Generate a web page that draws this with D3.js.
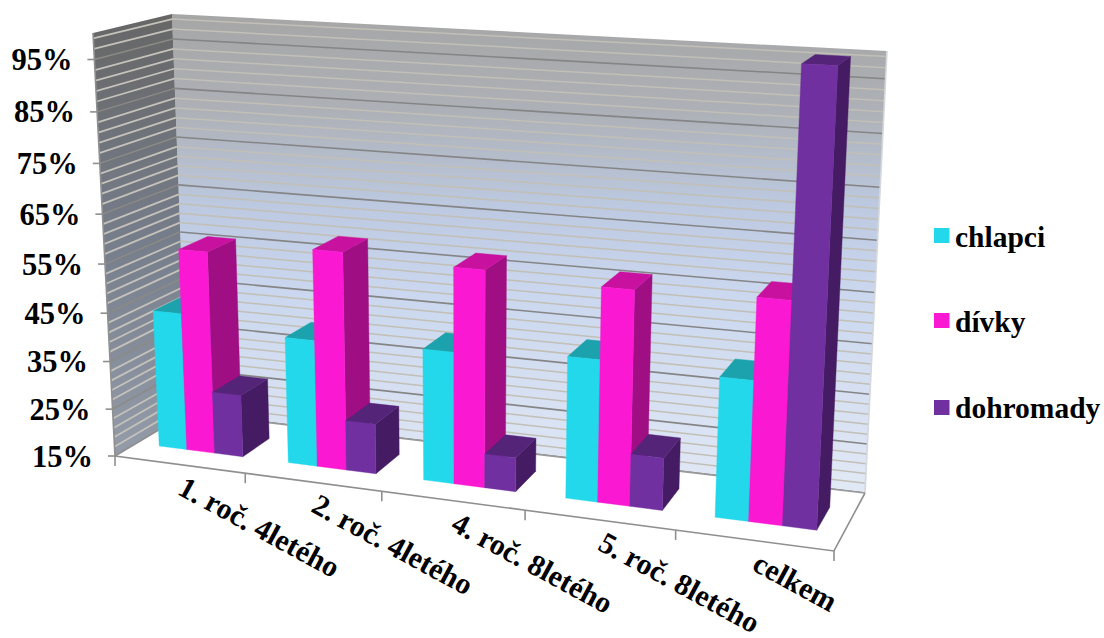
<!DOCTYPE html>
<html><head><meta charset="utf-8">
<style>html,body{margin:0;padding:0;background:#fff}svg{display:block}
text{font-family:"Liberation Serif",serif;font-weight:bold;fill:#000}</style>
<script src="https://cdnjs.cloudflare.com/ajax/libs/d3/7.8.5/d3.min.js"></script>
</head><body><div id="c"></div>
<script>
const categories = ["1. roč. 4letého","2. roč. 4letého","4. roč. 8letého","5. roč. 8letého","celkem"];
const seriesNames = ["chlapci","dívky","dohromady"];
const chlapci = [43.8,41.1,41.7,43.2,42.3];
const divky = [57,59.4,58.4,57.2,57.9];
const dohromady = [28,25.3,21.9,25.4,100];
const seriesValues = [chlapci,divky,dohromady];
const tickLabels = ["15%","25%","35%","45%","55%","65%","75%","85%","95%"];
const majorTicks = [15,25,35,45,55,65,75,85,95];
const minorTicks = d3.range(15,100,2);
const faceColors = [
  {front:"#22d8ea",side:"#179aa6",top:"#1ca2ac"},
  {front:"#fa18d2",side:"#a00e84",top:"#c8129f"},
  {front:"#7030a0",side:"#451b63",top:"#542478"}];

const W=1104,H=638;
const corners={flg:[115,456],frg:[834,551],blg:[187,413],brg:[865,493],
               flt:[93,33],frt:[857,74],blt:[172,14],brt:[887,51]};
const y01=d3.scaleLinear().domain([15,100]).range([0,1]);
const catBand=d3.scaleBand().domain(categories).range([0,1]);
const serBand=d3.scaleBand().domain(seriesNames).range([0.18,0.833]);
const warp=(t,c)=>t/(1+c*(1-t));
const lerp=(a,b,t)=>[a[0]+(b[0]-a[0])*t,a[1]+(b[1]-a[1])*t];
function project(u,val,w){
  const U=warp(u,0.13),V=warp(y01(val),0.07);
  const g=lerp(lerp(corners.flg,corners.frg,U),lerp(corners.blg,corners.brg,U),w);
  const t=lerp(lerp(corners.flt,corners.frt,U),lerp(corners.blt,corners.brt,U),w);
  return lerp(g,t,V);
}
const svg=d3.select("#c").append("svg").attr("width",W).attr("height",H);
const line=d3.line();
const defs=svg.append("defs");
function grad(id,stops,y1,y2){
  const g=defs.append("linearGradient").attr("id",id).attr("gradientUnits","userSpaceOnUse")
    .attr("x1",0).attr("x2",0).attr("y1",y1).attr("y2",y2);
  stops.forEach(s=>g.append("stop").attr("offset",s[0]).attr("stop-color",s[1]));
}
grad("gBack",[[0,"#a6a6a6"],[0.2,"#adb0b6"],[0.4,"#bcc9e0"],[0.58,"#cad7ee"],[1,"#e2e9f6"]],14,493);
grad("gLeft",[[0,"#666666"],[0.5,"#767d8a"],[1,"#949ca9"]],14,456);

const vMax=100,vMin=15;
svg.append("path").attr("d",line([project(0,vMin,1),project(1,vMin,1),project(1,vMax,1),project(0,vMax,1)])+"Z").attr("fill","url(#gBack)");
svg.append("path").attr("d",line([project(0,vMin,0),project(0,vMin,1),project(0,vMax,1),project(0,vMax,0)])+"Z").attr("fill","url(#gLeft)");
const gl=svg.append("g").attr("fill","none");
minorTicks.filter(v=>!majorTicks.includes(v)).forEach(v=>{
  gl.append("path").attr("d",line([project(0,v,0),project(0,v,1)])).attr("stroke","#c4c2ba").attr("stroke-width",1.8);
  gl.append("path").attr("d",line([project(0,v,1),project(1,v,1)])).attr("stroke","#c2bfb6").attr("stroke-width",1.5);
});
majorTicks.forEach(v=>{
  gl.append("path").attr("d",line([project(0,v,0),project(0,v,1)])).attr("stroke","#8c8a84").attr("stroke-width",1.4);
  gl.append("path").attr("d",line([project(0,v,1),project(1,v,1)])).attr("stroke","#858585").attr("stroke-width",1.6);
});
svg.append("path").attr("d",line([project(0,vMin,0),project(1,vMin,0),project(1,vMin,1),project(0,vMin,1)])+"Z").attr("fill","#fff");
const axisC="#8f8f8f";
const ax=svg.append("g").attr("fill","none").attr("stroke",axisC).attr("stroke-width",1.6);
ax.append("path").attr("d",line([project(0,vMax,0),project(0,vMin,0),project(1,vMin,0),project(1,vMin,1)]));
ax.append("path").attr("d",line([project(0,vMin,0),project(0,vMin,1)]));
ax.append("path").attr("d",line([project(1,vMin,1),project(1,vMax,1)])).attr("stroke","#d4d7dc");
ax.append("path").attr("d",line([project(0,vMin,1),project(1,vMin,1)])).attr("stroke","#999");
majorTicks.forEach(v=>{const p=project(0,v,0);ax.append("line").attr("x1",p[0]-7).attr("x2",p[0]).attr("y1",p[1]).attr("y2",p[1]);});
const catEdges=categories.map(c=>catBand(c)).concat([1]);
catEdges.forEach(u=>{const p=project(u,vMin,0);ax.append("line").attr("x1",p[0]).attr("x2",p[0]).attr("y1",p[1]).attr("y2",p[1]+10);});
const w0=0.3,w1=0.7;
categories.forEach((c,ci)=>{
  seriesNames.forEach((s,si)=>{
    const val=seriesValues[si][ci],col=faceColors[si];
    const a=catBand(c)+serBand(s)*catBand.bandwidth();
    const b=a+serBand.bandwidth()*catBand.bandwidth();
    const g=svg.append("g");
    const poly=(pts,f)=>g.append("path").attr("d",line(pts)+"Z").attr("fill",f).attr("stroke",f).attr("stroke-width",0.4);
    poly([project(b,vMin,w0),project(b,vMin,w1),project(b,val,w1),project(b,val,w0)],col.side);
    poly([project(a,val,w0),project(b,val,w0),project(b,val,w1),project(a,val,w1)],col.top);
    poly([project(a,vMin,w0),project(b,vMin,w0),project(b,val,w0),project(a,val,w0)],col.front);
  });
});
tickLabels.forEach((t,i)=>{
  const p=project(0,majorTicks[i],0);
  svg.append("text").attr("x",p[0]-22).attr("y",p[1]+10.5).attr("text-anchor","end").attr("font-size",30.5).text(t);
});
categories.forEach(c=>{
  const p=project(catBand(c)+catBand.bandwidth()/2,vMin,0);
  svg.append("text").attr("transform",`translate(${p[0]-3},${p[1]+29}) rotate(28.5)`).attr("font-size",30).text(c);
});
const legendY=[236,321,408];
seriesNames.forEach((s,i)=>{
  svg.append("rect").attr("x",934).attr("y",legendY[i]-8).attr("width",15.5).attr("height",15).attr("fill",faceColors[i].front);
  svg.append("text").attr("x",955).attr("y",legendY[i]+11-(i==2?1:0)).attr("font-size",29.5).text(s);
});
</script></body></html>
